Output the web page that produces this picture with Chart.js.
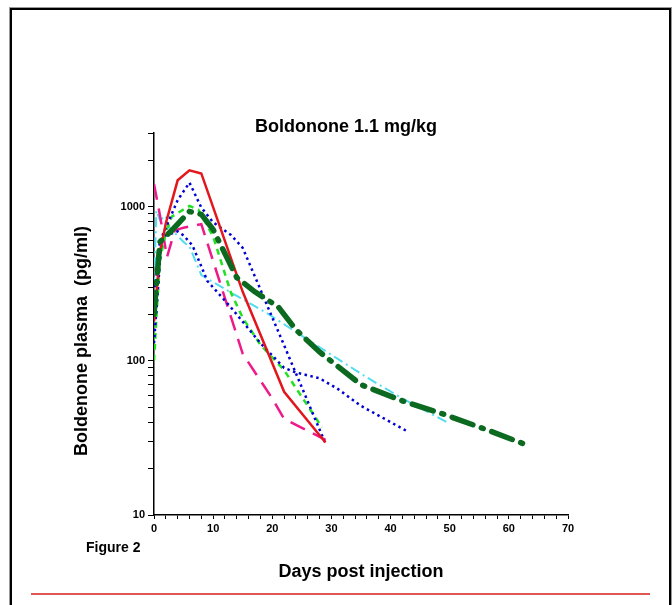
<!DOCTYPE html>
<html>
<head>
<meta charset="utf-8">
<script src="https://cdn.jsdelivr.net/npm/chart.js"></script>
<style>
  html, body { margin: 0; padding: 0; background: #fff; }
  body { width: 672px; height: 605px; position: relative; overflow: hidden; }
  #marco { position: absolute; left: 10px; top: 8px; width: 661px; height: 700px; box-sizing: border-box; border: 2px solid #000; outline: 1px solid #999; }
  #raya { position: absolute; left: 31px; top: 593px; width: 619px; height: 2px; background: #e05555; }
  #miGrafico { position: absolute; left: 0; top: 0; }
</style>
</head>
<body>
<div id="marco"></div>
<div id="raya"></div>
<canvas id="miGrafico" width="672" height="605"></canvas>
<script>
// Datos (dias post inyeccion / pg/ml)
const diasRojo = [0, 1, 2, 4, 6, 8, 15, 22, 29];
const valRojo = [180, 500, 780, 1480, 1720, 1640, 280, 63, 29.5];

const diasVerdeOscuro = [0, 1, 3, 4, 6, 8, 10, 14, 17, 21, 24, 28, 35, 42, 49, 56, 63.5];
const valVerdeOscuro = [200, 590, 700, 770, 930, 890, 710, 346, 281, 224, 159, 114, 70, 55, 45, 36, 28];

const diasCian = [0, 0.4, 1, 2, 2.5, 5, 6, 8, 13, 19, 26, 36, 42, 49.5];
const valCian = [300, 940, 820, 870, 740, 590, 550, 360, 277, 205, 137, 78, 57, 40];

const diasAzulA = [0, 1.3, 4, 6, 8, 10, 13, 15, 22, 29];
const valAzulA = [130, 630, 1100, 1430, 985, 790, 655, 540, 126, 29];

const diasAzulB = [0, 1, 2, 4, 5, 6.5, 8, 9, 13, 18, 22, 24, 28, 31, 35, 43];
const valAzulB = [250, 600, 650, 690, 650, 560, 410, 330, 222, 130, 90, 84, 77, 66, 51, 34.6];

const diasVerde = [0, 0.5, 1, 2, 3, 6, 7.5, 10, 13, 15, 18, 22, 28.4];
const valVerde = [100, 220, 450, 680, 860, 1010, 955, 640, 277, 190, 127, 87, 37];

const diasRosa = [0, 1, 2.2, 3.5, 5, 8, 15, 20, 22, 29];
const valRosa = [1400, 880, 470, 700, 730, 770, 111, 57, 42, 30.7];

// Marcas de ejes
const marcasY = [10, 20, 30, 40, 50, 60, 70, 80, 90, 100, 200, 300, 400, 500, 600, 700, 800, 900, 1000, 2000, 3000];
const etiquetasY = [10, 100, 1000];

const fuente = '"Liberation Sans", Arial, sans-serif';

function puntos(dias, valores) {
  return dias.map((d, i) => ({ x: d, y: valores[i] }));
}

function serie(dias, valores, color, ancho, guiones, orden, extremo) {
  return {
    data: puntos(dias, valores),
    borderColor: color,
    borderWidth: ancho,
    borderDash: guiones,
    borderCapStyle: extremo || 'butt',
    pointRadius: 0,
    tension: 0,
    fill: false,
    order: orden
  };
}

// Textos fuera de los ejes
const textosExtra = {
  id: 'textosExtra',
  afterDraw(chart) {
    const ctx = chart.ctx;
    ctx.save();
    ctx.fillStyle = '#000';
    ctx.textAlign = 'center';
    ctx.textBaseline = 'middle';
    ctx.font = 'bold 18px ' + fuente;
    ctx.fillText('Boldonone 1.1 mg/kg', 346, 127);
    ctx.save();
    ctx.translate(82, 341);
    ctx.rotate(-Math.PI / 2);
    ctx.fillText('Boldenone plasma  (pg/ml)', 0, 0);
    ctx.restore();
    ctx.textAlign = 'left';
    ctx.font = 'bold 14px ' + fuente;
    ctx.fillText('Figure 2', 86, 548);
    ctx.restore();
  }
};

const ctx = document.getElementById('miGrafico').getContext('2d');
const miGrafico = new Chart(ctx, {
  type: 'line',
  data: {
    datasets: [
      serie(diasVerdeOscuro, valVerdeOscuro, '#0b6a20', 5.5, [22, 9, 2, 9], 1, 'round'),
      serie(diasRojo, valRojo, '#e3161d', 2.5, [], 2),
      serie(diasAzulA, valAzulA, '#0000d4', 2.5, [2.5, 3.5], 3),
      serie(diasAzulB, valAzulB, '#0000d4', 2.5, [2.5, 3.5], 4),
      serie(diasVerde, valVerde, '#22e022', 2.5, [6, 5], 5),
      serie(diasRosa, valRosa, '#ee1a8a', 2.5, [16, 9], 6),
      serie(diasCian, valCian, '#52dcf0', 2, [10, 4, 2, 4], 7)
    ]
  },
  options: {
    responsive: false,
    animation: false,
    layout: { padding: { left: 104, right: 104, top: 133, bottom: 20 } },
    plugins: {
      legend: { display: false },
      tooltip: { enabled: false }
    },
    scales: {
      x: {
        type: 'linear',
        min: 0,
        max: 70,
        afterFit: (s) => { s.height = 70; },
        border: { color: '#000', width: 1.5 },
        grid: { drawOnChartArea: false, drawTicks: true, tickLength: 4, tickColor: '#000' },
        ticks: {
          stepSize: 2,
          autoSkip: false,
          maxRotation: 0,
          padding: 3,
          color: '#000',
          font: { family: fuente, size: 11, weight: 'bold' },
          callback: (v) => (v % 10 === 0 ? String(v) : '')
        },
        title: {
          display: true,
          text: 'Days post injection',
          color: '#000',
          font: { family: fuente, size: 18, weight: 'bold' },
          padding: { top: 0, bottom: 2 }
        }
      },
      y: {
        type: 'logarithmic',
        min: 10,
        max: 3000,
        afterFit: (s) => { s.width = 50; },
        afterBuildTicks: (s) => { s.ticks = marcasY.map((v) => ({ value: v })); },
        border: { color: '#000', width: 1.5 },
        grid: { drawOnChartArea: false, drawTicks: true, tickLength: 6, tickColor: '#000' },
        ticks: {
          autoSkip: false,
          padding: 3,
          color: '#000',
          font: { family: fuente, size: 11, weight: 'bold' },
          callback: (v) => (etiquetasY.includes(v) ? String(v) : '')
        }
      }
    }
  },
  plugins: [textosExtra]
});
</script>
</body>
</html>
